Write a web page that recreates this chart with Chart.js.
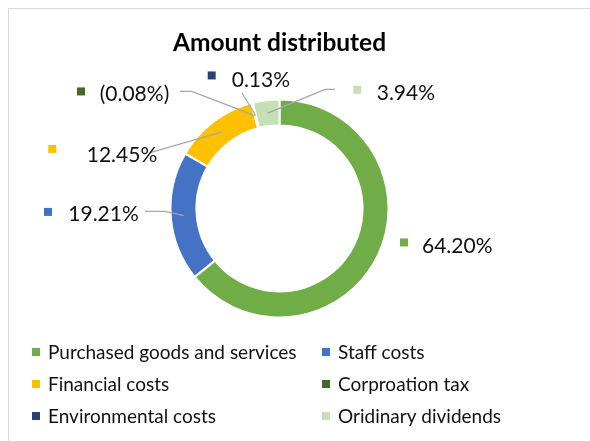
<!DOCTYPE html>
<html>
<head>
<meta charset="utf-8">
<script src="https://cdn.jsdelivr.net/npm/chart.js@4"></script>
<style>
  body { margin: 0; background: #fff; }
  .frame {
    position: absolute; left: 8px; top: 8px; width: 640px; height: 500px;
    border-left: 1px solid #d9d9d9; border-top: 1px solid #d9d9d9;
  }
  #donut { position: absolute; left: 0; top: 0; }
</style>
</head>
<body>
<div class="frame"></div>
<canvas id="donut" width="590" height="441"></canvas>
<script>
// Data
const categories = [
  "Purchased goods and services",
  "Staff costs",
  "Financial costs",
  "Corproation tax",
  "Environmental costs",
  "Oridinary dividends",
];
const shares = [64.2, 19.21, 12.45, -0.08, 0.13, 3.94];
const colours = ["#70ad47", "#4472c4", "#ffc000", "#43682b", "#264478", "#c5e0b4"];

// Label layout, relative to the donut centre: marker dx/dy, text dx/dy, leader bends
const labelLayout = [
  { marker: [120.5, 34], text: [142.5, 36.5], leader: [] },
  { marker: [-235.5, 3.5], text: [-211.2, 4.5], leader: [[-114.5, 3], [-134.5, 3]] },
  { marker: [-231.2, -59.5], text: [-192.8, -54], leader: [[-128.5, -56]] },
  { marker: [-202.5, -117], text: [-179.8, -115], leader: [[-87.8, -117], [-99.5, -117]] },
  { marker: [-71.8, -133], text: [-47.8, -129.3], leader: [[-37.5, -115.5]] },
  { marker: [73.8, -118.7], text: [97.2, -116], leader: [[45.5, -119], [55.5, -119]] },
];

const formatShare = (v) => (v < 0 ? `(${Math.abs(v).toFixed(2)}%)` : `${v.toFixed(2)}%`);

// Data labels with leader lines
const sliceLabels = {
  id: "sliceLabels",
  afterDatasetsDraw(chart) {
    const { ctx } = chart;
    const arcs = chart.getDatasetMeta(0).data;
    ctx.save();
    arcs.forEach((arc, i) => {
      const cx = arc.x;
      const cy = arc.y;
      const spot = labelLayout[i];

      if (spot.leader.length) {
        const start = arc.getCenterPoint();
        ctx.beginPath();
        ctx.moveTo(start.x, start.y);
        spot.leader.forEach(([dx, dy]) => ctx.lineTo(cx + dx, cy + dy));
        ctx.strokeStyle = "#a6a6a6";
        ctx.lineWidth = 1.2;
        ctx.stroke();
      }

      ctx.fillStyle = colours[i];
      ctx.fillRect(cx + spot.marker[0], cy + spot.marker[1] - 4, 8, 8);

      ctx.fillStyle = "#111";
      ctx.font = "21px Lato";
      ctx.textBaseline = "middle";
      ctx.textAlign = "left";
      ctx.fillText(formatShare(shares[i]), cx + spot.text[0], cy + spot.text[1] + 1);
    });
    ctx.restore();
  },
};

// Two-column legend
const gridLegend = {
  id: "gridLegend",
  afterDraw(chart) {
    const { ctx } = chart;
    const colX = [32, 322];
    const rowY = [352, 384, 416];
    ctx.save();
    ctx.font = "19px Lato";
    ctx.textBaseline = "middle";
    categories.forEach((name, i) => {
      const x = colX[i % 2];
      const y = rowY[Math.floor(i / 2)];
      ctx.fillStyle = colours[i];
      ctx.fillRect(x, y - 4, 8, 8);
      ctx.fillStyle = "#111";
      ctx.fillText(name, x + 16, y + 1);
    });
    ctx.restore();
  },
};

new Chart(document.getElementById("donut"), {
  type: "doughnut",
  data: {
    labels: categories,
    datasets: [
      {
        data: shares,
        backgroundColor: colours,
        borderColor: "#ffffff",
        borderWidth: 2,
      },
    ],
  },
  options: {
    responsive: false,
    animation: false,
    radius: 109,
    cutout: "76.2%",
    layout: {
      padding: { top: 0, left: 0, right: 31, bottom: 82 },
    },
    plugins: {
      legend: { display: false },
      tooltip: { enabled: false },
      title: {
        display: true,
        text: "Amount distributed",
        color: "#000",
        font: { family: "Lato", size: 24.5, weight: "bold" },
        padding: { top: 28.5, bottom: 0 },
      },
    },
  },
  plugins: [sliceLabels, gridLegend],
});
</script>
</body>
</html>
